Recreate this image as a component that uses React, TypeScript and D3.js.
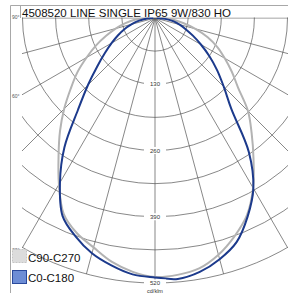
import React from 'react';
import * as d3 from 'd3';

const title = '4508520 LINE SINGLE IP65 9W/830 HO';
const unitLabel = 'cd/klm';

// gamma angles (deg from nadir)
const gammaAngles = [0, 5, 10, 15, 20, 25, 30, 35, 40, 45, 50, 55, 60, 65, 70, 75, 80, 85, 90];
// C0-C180 plane (blue): right half = C0, left half = C180
const c0Values = [509, 514, 506, 490, 468, 430, 386, 321, 233, 191, 159, 130, 104, 82, 64, 50, 36, 20, 3];
const c180Values = [509, 505, 493, 478, 456, 429, 373, 310, 235, 186, 148, 120, 98, 80, 64, 48, 33, 18, 3];
// C90-C270 plane (gray)
const c90Values = [508, 506, 499, 481, 456, 427, 385, 337, 295, 258, 213, 184, 158, 135, 110, 82, 56, 34, 12];
const c270Values = [508, 500, 486, 466, 449, 424, 377, 330, 290, 252, 216, 186, 155, 128, 102, 80, 60, 40, 12];

const ringValues = [65, 130, 195, 260, 325, 390, 455, 520];
const ringLabels = [130, 260, 390, 520];
const spokeAngles = [-90, -75, -60, -45, -30, -15, 0, 15, 30, 45, 60, 75, 90];
const angleLabelValues = [90, 60, 30];
const legendNames = ['C90-C270', 'C0-C180'];

const W = 288;
const H = 293;
const cx = 155;
const cy = 18;
const clipLeft = 22;
const clipRight = 288;

const rScale = d3.scaleLinear().domain([0, 520]).range([0, 265]);
const rad = (d: number) => (d * Math.PI) / 180;

function halfPlanePoints(left: number[], right: number[]): [number, number][] {
  const pts: [number, number][] = [];
  for (let i = gammaAngles.length - 1; i >= 0; i--) {
    const a = rad(gammaAngles[i]);
    const r = rScale(left[i]);
    pts.push([cx - r * Math.sin(a), cy + r * Math.cos(a)]);
  }
  for (let i = 1; i < gammaAngles.length; i++) {
    const a = rad(gammaAngles[i]);
    const r = rScale(right[i]);
    pts.push([cx + r * Math.sin(a), cy + r * Math.cos(a)]);
  }
  return pts;
}

const line = d3.line().curve(d3.curveCatmullRom.alpha(0.5));
const font = "'Liberation Sans', Arial, sans-serif";

export default function App() {
  const rMax = rScale(520);
  const grayPath = line(halfPlanePoints(c270Values, c90Values)) || '';
  const bluePath = line(halfPlanePoints(c180Values, c0Values)) || '';

  const angleLabelPos = angleLabelValues.map((a) => {
    const s = Math.sin(rad(a));
    const c = Math.cos(rad(a));
    let t = (cx - clipLeft) / s;
    if (t > rMax) t = rMax;
    return { text: `${a}°`, y: cy + t * c + 1 + 4 * c };
  });

  return (
    <svg
      width={W}
      height={H}
      style={{ position: 'absolute', left: 0, top: 0, background: '#fff' }}
    >
      <defs>
        <clipPath id="plotClip">
          <rect x={clipLeft} y={cy - 0.5} width={clipRight - clipLeft} height={H - cy} />
        </clipPath>
      </defs>
      <rect x={0} y={0} width={W} height={H} fill="#fff" />
      {/* frame */}
      <path d={`M10.5,${H} V5.5 H${W}`} fill="none" stroke="#a8a8a8" strokeWidth={1} />
      <path d={`M20.5,5.5 V${cy}`} fill="none" stroke="#a8a8a8" strokeWidth={1} />

      <g clipPath="url(#plotClip)">
        {ringValues.map((v) => (
          <circle key={v} cx={cx} cy={cy} r={rScale(v)} fill="none" stroke="#555" strokeWidth={0.7} />
        ))}
        {spokeAngles.map((a) => (
          <line
            key={a}
            x1={cx}
            y1={cy}
            x2={cx + rMax * Math.sin(rad(a))}
            y2={cy + rMax * Math.cos(rad(a))}
            stroke="#555"
            strokeWidth={0.7}
          />
        ))}
        <path d={grayPath} fill="none" stroke="#b3b3b3" strokeWidth={2} strokeLinejoin="round" />
        <path d={bluePath} fill="none" stroke="#1c3a8c" strokeWidth={2} strokeLinejoin="round" />
      </g>

      {ringLabels.map((v) => (
        <g key={v}>
          <rect x={cx - 11} y={cy + rScale(v) - 3.5} width={22} height={7} fill="#fff" />
          <text
            x={cx}
            y={cy + rScale(v) + 2}
            textAnchor="middle"
            fontFamily={font}
            fontSize={6}
            fill="#333"
          >
            {v}
          </text>
        </g>
      ))}
      <text x={cx} y={H - 0.5} textAnchor="middle" fontFamily={font} fontSize={5.5} fill="#333">
        {unitLabel}
      </text>

      {angleLabelPos.map((l) => (
        <text key={l.text} x={12} y={l.y} fontFamily={font} fontSize={5} fill="#555">
          {l.text}
        </text>
      ))}

      <text x={22} y={16.7} fontFamily={font} fontSize={11.5} fill="#111">
        {title}
      </text>

      {/* legend */}
      <rect x={12.5} y={249.5} width={14} height={13} fill="#dcdcdc" stroke="#c4c4c4" strokeDasharray="2,1" />
      <text x={28} y={261.5} fontFamily={font} fontSize={11.5} fill="#111">
        {legendNames[0]}
      </text>
      <rect x={12.5} y={270.5} width={14} height={13} fill="#6d8dd5" stroke="#2a4a9c" />
      <text x={28} y={281.5} fontFamily={font} fontSize={11.5} fill="#111">
        {legendNames[1]}
      </text>
    </svg>
  );
}
